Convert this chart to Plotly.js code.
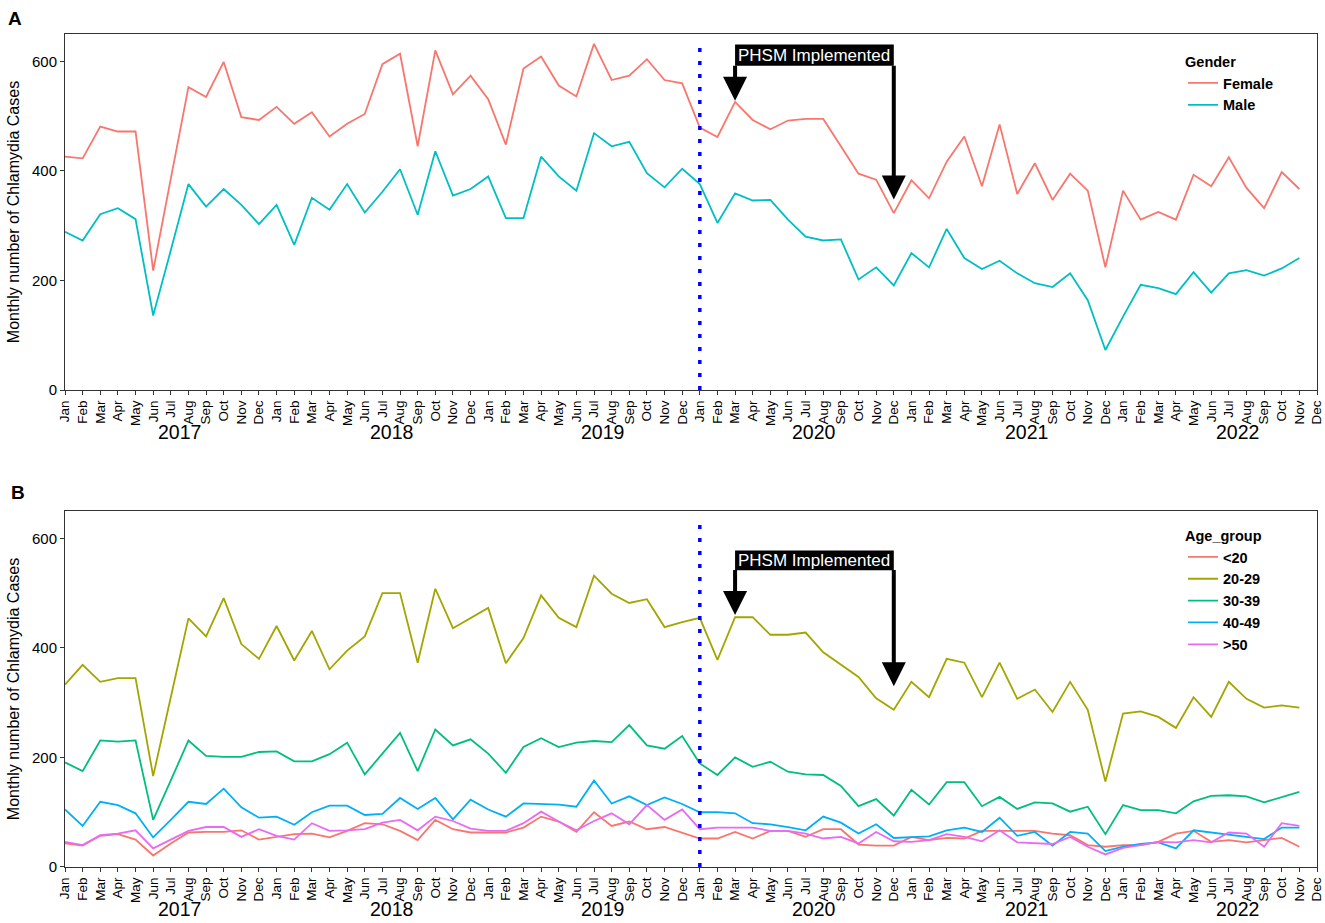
<!DOCTYPE html>
<html>
<head>
<meta charset="utf-8">
<script src="https://cdn.plot.ly/plotly-3.0.1.min.js"></script>
<style>
  html, body { margin: 0; padding: 0; background: #fff; }
  #chart { width: 1325px; height: 923px; }
</style>
</head>
<body>
<div id="chart"></div>
<script>
const MONTHS = ["Jan", "Feb", "Mar", "Apr", "May", "Jun", "Jul", "Aug", "Sep", "Oct", "Nov", "Dec"];
const YEARS = [2017, 2018, 2019, 2020, 2021, 2022];

// monthly case counts, Jan 2017 .. Nov 2022
const female = [
  426, 423, 481, 472, 472, 218, 386, 553, 535, 599, 498, 493,
  517, 486, 507, 463, 486, 504, 595, 614, 445, 620, 540, 574,
  531, 448, 587, 609, 556, 536, 632, 566, 574, 604, 566, 560,
  479, 462, 526, 493, 476, 492, 495, 495, 445, 395, 384, 323,
  383, 350, 417, 463, 372, 485, 358, 414, 347, 395, 364, 224,
  364, 311, 325, 311, 393, 372, 425, 369, 332, 398, 367
];
const male = [
  289, 273, 321, 332, 312, 136, 255, 376, 335, 367, 338, 303,
  338, 265, 351, 329, 376, 324, 362, 403, 320, 436, 355, 367,
  390, 314, 314, 426, 390, 364, 469, 445, 453, 396, 370, 404,
  376, 305, 359, 346, 347, 311, 280, 273, 275, 202, 224, 191,
  250, 224, 294, 241, 221, 236, 213, 195, 188, 213, 164, 73,
  134, 192, 186, 175, 215, 178, 213, 219, 209, 222, 241
];
const under20 = [
  43, 39, 57, 60, 50, 21, 43, 63, 64, 64, 67, 50,
  55, 60, 61, 54, 66, 80, 78, 66, 49, 86, 69, 63,
  63, 63, 72, 92, 83, 64, 100, 75, 83, 69, 73, 63,
  52, 52, 64, 52, 66, 66, 55, 69, 69, 41, 39, 39,
  55, 49, 53, 52, 66, 66, 66, 66, 61, 58, 40, 37,
  40, 40, 46, 61, 66, 46, 49, 45, 49, 53, 37
];
const age20to29 = [
  333, 369, 338, 345, 345, 166, 310, 454, 421, 491, 407, 380,
  440, 377, 431, 361, 395, 421, 500, 500, 373, 508, 436, 454,
  473, 372, 418, 496, 455, 438, 532, 499, 482, 489, 438, 447,
  455, 378, 456, 456, 424, 424, 428, 392, 369, 347, 308, 287,
  338, 310, 380, 373, 310, 373, 307, 324, 283, 338, 287, 156,
  280, 284, 274, 254, 310, 274, 338, 307, 291, 295, 291
];
const age30to39 = [
  191, 175, 231, 229, 231, 86, 158, 231, 203, 201, 201, 210,
  211, 193, 193, 206, 227, 169, 207, 245, 175, 251, 222, 233,
  207, 172, 219, 235, 219, 227, 230, 228, 259, 222, 216, 239,
  189, 168, 200, 183, 192, 174, 169, 168, 148, 111, 124, 94,
  141, 114, 155, 155, 111, 128, 106, 118, 116, 101, 110, 60,
  113, 104, 104, 98, 120, 130, 131, 129, 118, 128, 137
];
const age40to49 = [
  105, 75, 119, 113, 98, 54, 86, 119, 115, 143, 109, 90,
  92, 77, 100, 112, 112, 95, 97, 126, 106, 126, 87, 123,
  105, 92, 116, 115, 114, 110, 158, 116, 129, 113, 127, 115,
  100, 100, 98, 80, 78, 73, 67, 92, 81, 61, 78, 53,
  55, 56, 67, 72, 64, 90, 57, 64, 39, 64, 61, 29,
  37, 42, 45, 34, 67, 63, 60, 55, 51, 72, 72
];
const over50 = [
  46, 40, 58, 61, 67, 34, 50, 66, 73, 73, 55, 69,
  57, 50, 80, 66, 67, 69, 81, 86, 67, 92, 84, 70,
  66, 66, 80, 101, 83, 67, 84, 98, 78, 113, 86, 105,
  69, 72, 72, 72, 66, 66, 61, 52, 55, 43, 64, 47,
  46, 49, 60, 55, 47, 67, 45, 43, 42, 55, 37, 23,
  35, 40, 46, 45, 49, 45, 63, 61, 37, 80, 75
];

const CATS = YEARS.flatMap(y => MONTHS.map(m => m + " " + y));
const FONT = "Arial, 'Liberation Sans', sans-serif";

const line = (name, y, color, xa, ya, legend) => ({
  x: CATS.slice(0, y.length), y, name, type: "scatter", mode: "lines",
  line: { color, width: 1.8 }, xaxis: xa, yaxis: ya, legend,
});

const traces = [
  line("Female", female, "#F8766D", "x", "y", "legend"),
  line("Male", male, "#00BFC4", "x", "y", "legend"),
  line("<20", under20, "#F8766D", "x2", "y2", "legend2"),
  line("20-29", age20to29, "#A3A500", "x2", "y2", "legend2"),
  line("30-39", age30to39, "#00BF7D", "x2", "y2", "legend2"),
  line("40-49", age40to49, "#00B0F6", "x2", "y2", "legend2"),
  line(">50", over50, "#E76BF3", "x2", "y2", "legend2"),
];

const xAxis = (anchor) => ({
  type: "category", categoryorder: "array", categoryarray: CATS,
  range: [0, CATS.length - 1], anchor,
  tickmode: "array", tickvals: CATS, ticktext: CATS.map(c => c.split(" ")[0]),
  tickangle: -90, tickfont: { size: 13.5, color: "#000" },
  ticks: "outside", ticklen: 4, tickcolor: "#333",
  showline: true, mirror: true, linecolor: "#333", linewidth: 1,
  showgrid: false, zeroline: false,
});
const yAxis = (domain, anchor) => ({
  domain, anchor, range: [0, 650], tickvals: [0, 200, 400, 600],
  tickfont: { size: 15, color: "#000" },
  ticks: "outside", ticklen: 4, tickcolor: "#333",
  showline: true, mirror: true, linecolor: "#333", linewidth: 1,
  showgrid: false, zeroline: false,
  title: { text: "Monthly number of Chlamydia Cases", font: { size: 16, color: "#000" }, standoff: 8 },
});

const legendStyle = (y, title) => ({
  x: 0.893, y, xanchor: "left", yanchor: "top",
  bgcolor: "rgba(0,0,0,0)", tracegroupgap: 0,
  title: { text: "<b>" + title + "</b>", font: { size: 14.5, color: "#000", family: FONT } },
  font: { size: 14.5, color: "#000", family: FONT, weight: "bold" },
});

// intervention markers
const cut = CATS.indexOf("Jan 2020");
const phsmStart = CATS.indexOf("Mar 2020");
const phsmEnd = CATS.indexOf("Dec 2020");
const panels = [
  { xr: "x", yr: "y", boxLo: 592, boxHi: 631, tipL: 528, tipR: 348 },
  { xr: "x2", yr: "y2", boxLo: 542, boxHi: 578, tipL: 460, tipR: 330 },
];

const shapes = [];
const annotations = [];
panels.forEach(p => {
  shapes.push({
    type: "line", xref: p.xr, yref: p.yr + " domain", x0: cut, x1: cut, y0: 0, y1: 0.985,
    line: { color: "#0000FF", width: 3.5, dash: "4px,9px" },
  });
  shapes.push({
    type: "rect", xref: p.xr, yref: p.yr, x0: phsmStart, x1: phsmEnd, y0: p.boxLo, y1: p.boxHi,
    fillcolor: "#000", line: { width: 0 },
  });
  annotations.push({
    xref: p.xr, yref: p.yr, x: (phsmStart + phsmEnd) / 2, y: (p.boxLo + p.boxHi) / 2,
    text: "PHSM Implemented", showarrow: false, font: { size: 17, color: "#fff", family: FONT },
  });
  [[phsmStart, p.tipL], [phsmEnd, p.tipR]].forEach(([xi, tip]) => {
    annotations.push({
      xref: p.xr, yref: p.yr, axref: p.xr, ayref: p.yr, x: xi, y: tip, ax: xi, ay: p.boxLo + 3,
      text: "", showarrow: true, arrowhead: 2, arrowwidth: 4, arrowsize: 1.2, arrowcolor: "#000", standoff: 0,
    });
  });
  YEARS.forEach((yr, i) => {
    annotations.push({
      xref: p.xr, yref: p.yr + " domain", x: i * 12 + 6.5, y: 0, yanchor: "middle", yshift: -42,
      text: String(yr), showarrow: false, font: { size: 19.5, color: "#000", family: FONT },
    });
  });
});
annotations.push(
  { xref: "paper", yref: "paper", x: -0.047, y: 1.019, xanchor: "left", yanchor: "middle", text: "<b>A</b>", showarrow: false, font: { size: 19, color: "#000", family: FONT } },
  { xref: "paper", yref: "paper", x: -0.045, y: 0.45, xanchor: "left", yanchor: "middle", text: "<b>B</b>", showarrow: false, font: { size: 19, color: "#000", family: FONT } },
);

const layout = {
  width: 1325, height: 923,
  margin: { l: 65, r: 8, t: 34, b: 56 },
  paper_bgcolor: "#fff", plot_bgcolor: "#fff",
  font: { family: FONT, color: "#000" },
  xaxis: xAxis("y"),
  xaxis2: xAxis("y2"),
  yaxis: yAxis([0.5726, 1], "x"),
  yaxis2: yAxis([0, 0.4274], "x2"),
  legend: legendStyle(0.983, "Gender"),
  legend2: legendStyle(0.414, "Age_group"),
  shapes, annotations,
};

Plotly.newPlot("chart", traces, layout, { displayModeBar: false, staticPlot: true });
</script>
</body>
</html>
